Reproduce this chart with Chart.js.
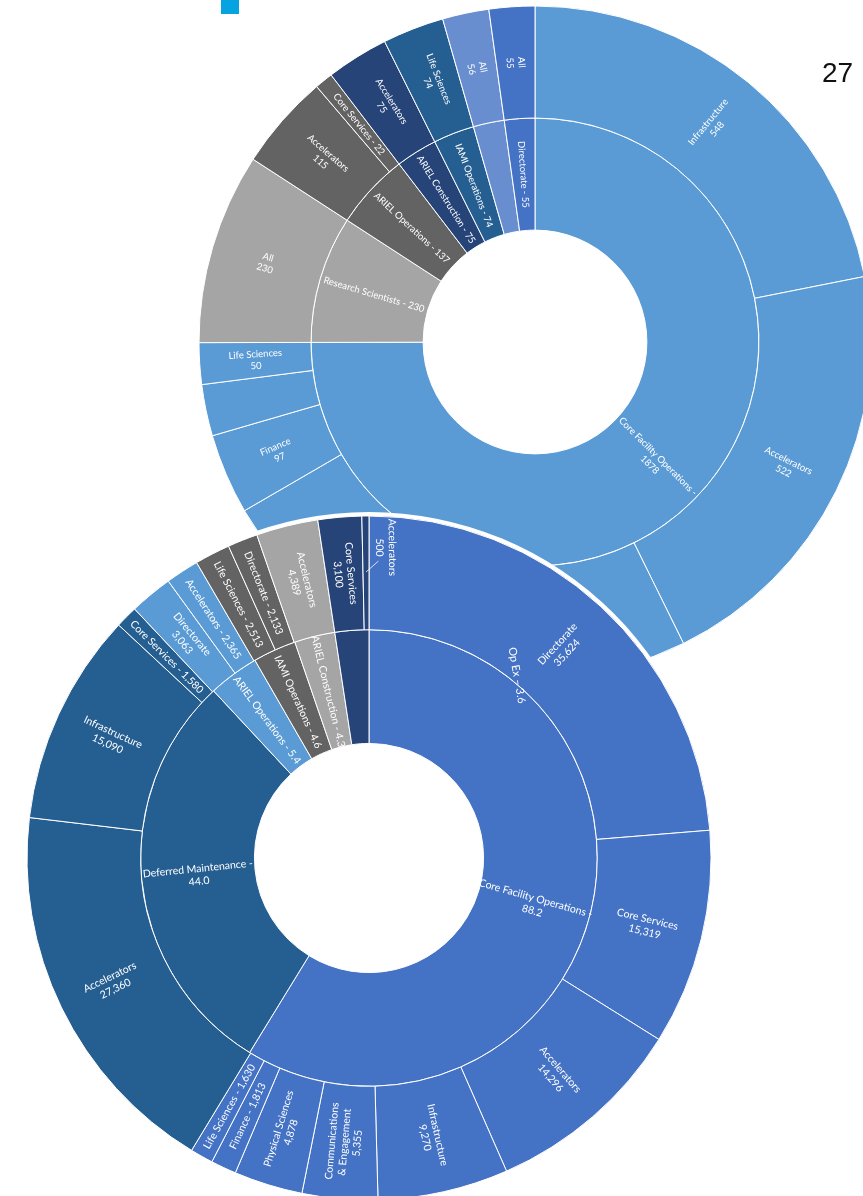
<!DOCTYPE html>
<html>
<head>
<meta charset="utf-8">
<script src="https://cdn.jsdelivr.net/npm/chart.js@4.4.1/dist/chart.umd.min.js"></script>
<style>
  html, body { margin: 0; padding: 0; background: #fff; }
  body { position: relative; width: 863px; height: 1196px; overflow: hidden; }
  canvas { position: absolute; }
  #chartTop { left: 185px; top: -8px; z-index: 1; }
  #chartBottom { left: 9px; top: 498px; z-index: 2; }
  .mark { position: absolute; left: 221px; top: 0; width: 18px; height: 14px; background: #05a3e0; z-index: 3; }
  .page { position: absolute; left: 822px; top: 59px; font: 28px/28px 'Liberation Sans', Arial, sans-serif; color: #111; z-index: 3; }
</style>
</head>
<body>
<div class="mark"></div>
<div class="page">27</div>
<canvas id="chartTop" width="700" height="700"></canvas>
<canvas id="chartBottom" width="720" height="720"></canvas>
<script>
// ---- top sunburst (inner ring = groups, outer ring = items) ----
const topGroups = ['Core Facility Operations', 'Research Scientists', 'ARIEL Operations', 'ARIEL Construction', 'IAMI Operations', '', 'Directorate'];
const topGroupValues = [1878, 230, 137, 75, 74, 56, 55];
const topGroupText = ['Core Facility Operations -\n1878', 'Research Scientists - 230', 'ARIEL Operations - 137', 'ARIEL Construction - 75', 'IAMI Operations - 74', '', 'Directorate - 55'];
const topGroupColors = ['#5b9bd5', '#a5a5a5', '#636363', '#264478', '#255e91', '#698ed0', '#4472c4'];

const topItemGroup = [0, 0, 0, 0, 0, 0, 1, 2, 2, 3, 4, 5, 6];
const topItemValues = [548, 522, 599, 97, 62, 50, 230, 115, 22, 75, 74, 56, 55];
const topItemText = ['Infrastructure\n548', 'Accelerators\n522', '', 'Finance\n97', '', 'Life Sciences\n50', 'All\n230', 'Accelerators\n115', 'Core Services - 22', 'Accelerators\n75', 'Life Sciences\n74', 'All\n56', 'All\n55'];

// ---- bottom sunburst ----
const botGroups = ['Core Facility Operations', 'Deferred Maintenance', 'ARIEL Operations', 'IAMI Operations', 'ARIEL Construction', 'Op Ex'];
const botGroupValues = [88.2, 44.0, 5.4, 4.6, 4.3, 3.6];
const botGroupText = ['Core Facility Operations -\n88.2', 'Deferred Maintenance -\n44.0', 'ARIEL Operations - 5.4', 'IAMI Operations - 4.6', 'ARIEL Construction - 4.3', 'Op Ex \u2013 3.6'];
const botGroupColors = ['#4472c4', '#255e91', '#5b9bd5', '#636363', '#a5a5a5', '#264478'];

const botItemGroup = [0, 0, 0, 0, 0, 0, 0, 0, 1, 1, 1, 2, 2, 3, 3, 4, 5, 5];
const botItemValues = [35624, 15319, 14296, 9270, 5355, 4878, 1813, 1630, 27360, 15090, 1580, 3063, 2365, 2513, 2133, 4389, 3100, 500];
const botItemText = ['Directorate\n35,624', 'Core Services\n15,319', 'Accelerators\n14,296', 'Infrastructure\n9,270', 'Communications\n& Engagement\n5,355', 'Physical Sciences\n4,878', 'Finance - 1,813', 'Life Sciences - 1,630', 'Accelerators\n27,360', 'Infrastructure\n15,090', 'Core Services - 1,580', 'Directorate\n3,063', 'Accelerators - 2,365', 'Life Sciences - 2,513', 'Directorate - 2,133', 'Accelerators\n4,389', 'Core Services\n3,100', 'Accelerators\n500'];

const rad = d => (d - 90) * Math.PI / 180;

// radial labels, flipped on the left half so they never read upside down
const sunLabels = {
  id: 'sunLabels',
  afterDatasetsDraw(chart, args, opts) {
    const ctx = chart.ctx;
    ctx.save();
    ctx.fillStyle = '#fff';
    ctx.strokeStyle = '#fff';
    ctx.textAlign = 'center';
    ctx.textBaseline = 'middle';
    chart.data.datasets.forEach((ds, di) => {
      chart.getDatasetMeta(di).data.forEach((arc, i) => {
        const text = ds.labelText && ds.labelText[i];
        if (!text) return;
        const { x, y, startAngle, endAngle, innerRadius, outerRadius } =
          arc.getProps(['x', 'y', 'startAngle', 'endAngle', 'innerRadius', 'outerRadius'], true);
        const mid = (startAngle + endAngle) / 2;
        let a = mid;
        while (a < -Math.PI / 2) a += 2 * Math.PI;
        while (a >= 1.5 * Math.PI) a -= 2 * Math.PI;
        let rot = a > Math.PI / 2 ? a - Math.PI : a;
        const r = (innerRadius + outerRadius) / 2;
        let px = x + Math.cos(mid) * r, py = y + Math.sin(mid) * r;
        let size = opts.size;
        const mv = (opts.moves || {})[di + ':' + i];
        if (mv) {
          px = x + Math.cos(rad(mv.deg)) * mv.r;
          py = y + Math.sin(rad(mv.deg)) * mv.r;
          if (mv.rot !== undefined) rot = mv.rot * Math.PI / 180;
          if (mv.size) size = mv.size;
          if (mv.leader) {
            const [d1, r1, d2, r2] = mv.leader;
            ctx.lineWidth = 0.8;
            ctx.beginPath();
            ctx.moveTo(x + Math.cos(rad(d1)) * r1, y + Math.sin(rad(d1)) * r1);
            ctx.lineTo(x + Math.cos(rad(d2)) * r2, y + Math.sin(rad(d2)) * r2);
            ctx.stroke();
          }
        }
        ctx.font = `${size}px Lato, 'Open Sans', sans-serif`;
        const lines = text.split('\n');
        const lh = size * 1.22;
        ctx.save();
        ctx.translate(px, py);
        ctx.rotate(rot);
        lines.forEach((ln, k) => ctx.fillText(ln, 0, (k - (lines.length - 1) / 2) * lh));
        ctx.restore();
      });
    });
    ctx.restore();
  }
};

// white disc under the bottom chart so it sits on top of the other one
const backDisc = {
  id: 'backDisc',
  beforeDatasetsDraw(chart, args, opts) {
    if (!opts.pad) return;
    const arc = chart.getDatasetMeta(0).data[0];
    const { x, y, outerRadius } = arc.getProps(['x', 'y', 'outerRadius'], true);
    const ctx = chart.ctx;
    ctx.save();
    ctx.fillStyle = '#fff';
    ctx.beginPath();
    ctx.arc(x, y, outerRadius + opts.pad, 0, Math.PI * 2);
    ctx.fill();
    ctx.restore();
  }
};

function sunburst(id, radius, cutout, groups, gValues, gText, gColors, itemGroup, iValues, iText, labelOpts, pad) {
  return new Chart(document.getElementById(id), {
    type: 'doughnut',
    data: {
      labels: iValues.map((_, i) => i),
      datasets: [
        { data: iValues, backgroundColor: itemGroup.map(g => gColors[g]), borderColor: '#fff', borderWidth: 1, labelText: iText },
        { data: gValues, backgroundColor: gColors, borderColor: '#fff', borderWidth: 1, labelText: gText, groups }
      ]
    },
    options: {
      responsive: false,
      animation: false,
      events: [],
      radius,
      cutout,
      layout: { padding: 0 },
      plugins: {
        legend: { display: false },
        tooltip: { enabled: false },
        sunLabels: labelOpts,
        backDisc: { pad }
      }
    },
    plugins: [backDisc, sunLabels]
  });
}

sunburst('chartTop', 336, '33.3%', topGroups, topGroupValues, topGroupText, topGroupColors,
  topItemGroup, topItemValues, topItemText, { size: 9.5 }, 0);

sunburst('chartBottom', 342, '33.5%', botGroups, botGroupValues, botGroupText, botGroupColors,
  botItemGroup, botItemValues, botItemText,
  {
    size: 10.5,
    moves: {
      '1:5': { deg: 39, r: 235, rot: 80, size: 11 },
      '0:17': { deg: 3.1, r: 311, leader: [1.8, 297, 359.4, 286] }
    }
  }, 4);
</script>
</body>
</html>
